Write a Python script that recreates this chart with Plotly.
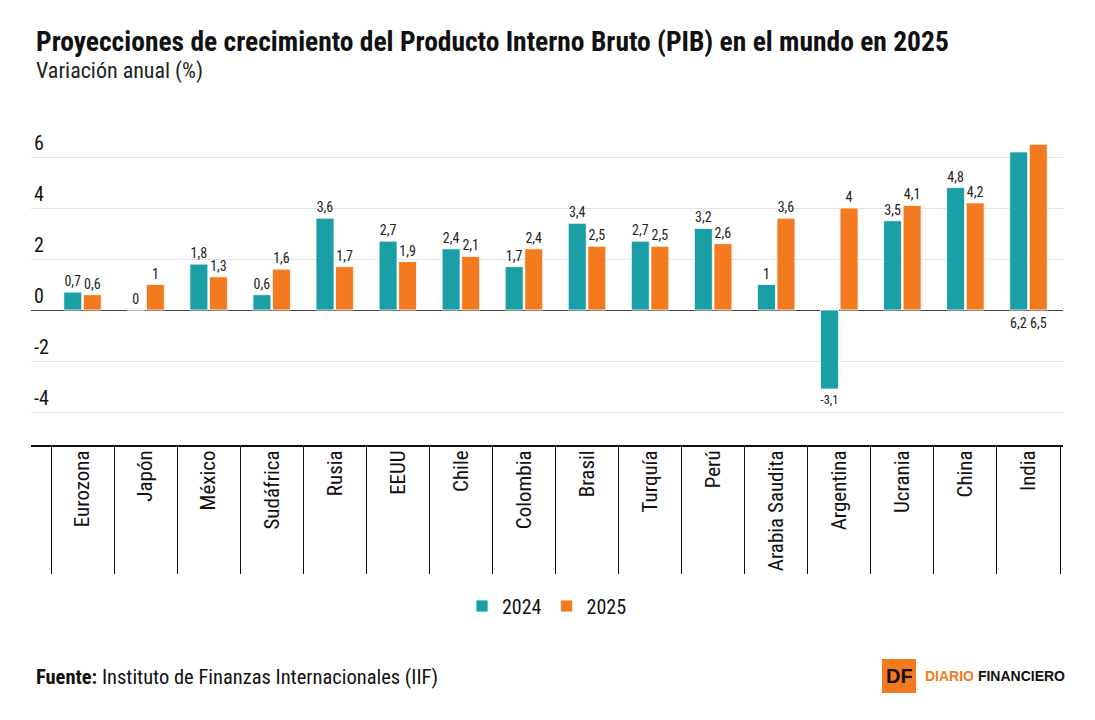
import plotly.graph_objects as go

categories = ["Eurozona", "Japón", "México", "Sudáfrica", "Rusia", "EEUU", "Chile", "Colombia",
              "Brasil", "Turquía", "Perú", "Arabia Saudita", "Argentina", "Ucrania", "China", "India"]
v2024 = [0.7, 0, 1.8, 0.6, 3.6, 2.7, 2.4, 1.7, 3.4, 2.7, 3.2, 1, -3.1, 3.5, 4.8, 6.2]
v2025 = [0.6, 1, 1.3, 1.6, 1.7, 1.9, 2.1, 2.4, 2.5, 2.5, 2.6, 3.6, 4, 4.1, 4.2, 6.5]
ytick_vals = [-4, -2, 0, 2, 4, 6]
below_label = ["India"]  # labels drawn under the zero line

TEAL = "#1a9fa7"
ORANGE = "#f47a20"
FONT = "Liberation Sans Narrow, Roboto Condensed, Arial Narrow, Roboto, sans-serif"

# page body has an 8px margin: figure drawn at 1087x712
W, H = 1087, 712
PL, PR, PT, PB = 23, 1055, 102, 437  # plot area in figure pixels
PH = PB - PT
PW = PR - PL


def px_y(y):  # figure pixel y -> paper y
    return (PB - y) / PH


def px_x(x):
    return (x - PL) / PW


def labels(vals):
    return ["" if c in below_label else ("%g" % v).replace(".", ",") for c, v in zip(categories, vals)]


fig = go.Figure()
fig.add_trace(go.Bar(x=categories, y=v2024, name="2024", marker=dict(color=TEAL, line=dict(color="white", width=0.8)),
                     text=labels(v2024), textposition="outside", textfont=dict(size=14, color="#222"),
                     cliponaxis=False))
fig.add_trace(go.Bar(x=categories, y=v2025, name="2025", marker=dict(color=ORANGE, line=dict(color="white", width=0.8)),
                     text=labels(v2025), textposition="outside", textfont=dict(size=14, color="#222"),
                     cliponaxis=False))

annotations = []
for c in below_label:
    i = categories.index(c)
    for vals, shift in ((v2024, -10), (v2025, 10)):
        annotations.append(dict(x=c, y=0, xref="x", yref="y", text=("%g" % vals[i]).replace(".", ","),
                                showarrow=False, yanchor="top", yshift=-3, xshift=shift,
                                font=dict(size=14, color="#222", family=FONT)))

annotations += [
    dict(xref="paper", yref="paper", x=px_x(26), y=px_y(34), xanchor="left", yanchor="middle",
         text="<b>Proyecciones de crecimiento del Producto Interno Bruto (PIB) en el mundo en 2025</b>",
         showarrow=False, font=dict(size=27.5, color="#111", family=FONT)),
    dict(xref="paper", yref="paper", x=px_x(26), y=px_y(63), xanchor="left", yanchor="middle",
         text="Variación anual (%)", showarrow=False, font=dict(size=22, color="#222", family=FONT)),
    dict(xref="paper", yref="paper", x=px_x(26), y=px_y(669), xanchor="left", yanchor="middle",
         text="<b>Fuente:</b> Instituto de Finanzas Internacionales (IIF)", showarrow=False,
         font=dict(size=20.5, color="#111", family=FONT)),
    dict(xref="paper", yref="paper", x=px_x(891), y=px_y(668), xanchor="center", yanchor="middle",
         text="<b>DF</b>", showarrow=False, font=dict(size=20, color="#111", family="Liberation Sans, Arial")),
    dict(xref="paper", yref="paper", x=px_x(915), y=px_y(668), xanchor="left", yanchor="middle",
         text="<b><span style='color:#f47a20'>DIARIO</span> FINANCIERO</b>", showarrow=False,
         font=dict(size=14, color="#111", family="Liberation Sans, Arial")),
]

shapes = [dict(type="rect", xref="paper", yref="paper", x0=px_x(874), x1=px_x(908),
               y0=px_y(685), y1=px_y(651), fillcolor=ORANGE, line=dict(width=0))]

fig.update_layout(
    width=W, height=H,
    margin=dict(l=PL, r=W - PR, t=PT, b=H - PB, autoexpand=False),
    paper_bgcolor="white", plot_bgcolor="white",
    barmode="group", bargap=0.38, bargroupgap=0.08,
    separators=",.",
    font=dict(family=FONT, color="#222"),
    showlegend=True,
    legend=dict(orientation="h", x=0.5, xanchor="center", y=px_y(598), yanchor="middle",
                font=dict(size=20, color="#111"), itemwidth=30, traceorder="normal"),
    annotations=annotations,
    shapes=shapes,
)
fig.update_xaxes(
    type="category", range=[-0.5 - 20 / 63.06, 15.5 + 3 / 63.06],
    showline=True, linecolor="#111", linewidth=2,
    ticks="outside", tickson="boundaries", ticklen=127, tickcolor="#111", tickwidth=1,
    tickangle=-90, tickfont=dict(size=21, color="#111"), ticklabelstandoff=-5,
    showgrid=False, automargin=False,
)
fig.update_yaxes(
    range=[-135 / 25.5, 200 / 25.5], tickvals=ytick_vals, ticktext=[str(v) for v in ytick_vals],
    ticklabelposition="inside top", tickfont=dict(size=20, color="#111"),
    showgrid=True, gridcolor="#e2e2e2", gridwidth=1,
    zeroline=True, zerolinecolor="#444", zerolinewidth=1,
    showline=False, automargin=False,
)

fig.write_html("out.html")
